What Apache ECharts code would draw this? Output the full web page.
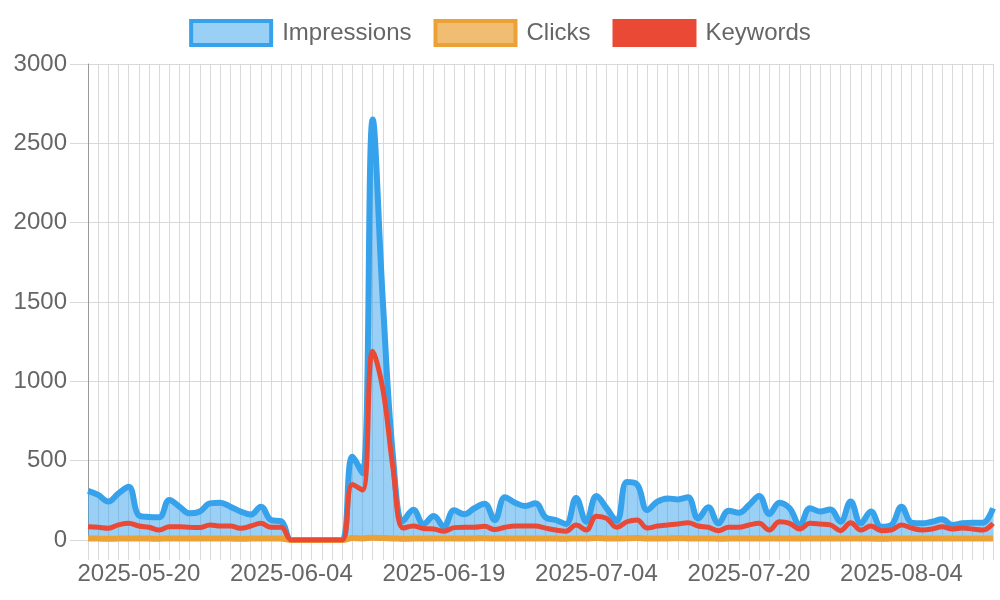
<!DOCTYPE html>
<html>
<head>
<meta charset="utf-8">
<script src="https://cdn.jsdelivr.net/npm/echarts@6/dist/echarts.min.js"></script>
<style>
html,body{margin:0;padding:0;background:#fff;}
#chart{width:1000px;height:600px;}
</style>
</head>
<body>
<div id="chart"></div>
<script>
const dates = [
"2025-05-15","2025-05-16","2025-05-17","2025-05-18","2025-05-19","2025-05-20","2025-05-21","2025-05-22","2025-05-23","2025-05-24",
"2025-05-25","2025-05-26","2025-05-27","2025-05-28","2025-05-29","2025-05-30","2025-05-31","2025-06-01","2025-06-02","2025-06-03",
"2025-06-04","2025-06-05","2025-06-06","2025-06-07","2025-06-08","2025-06-09","2025-06-10","2025-06-11","2025-06-12","2025-06-13",
"2025-06-14","2025-06-15","2025-06-16","2025-06-17","2025-06-18","2025-06-19","2025-06-20","2025-06-21","2025-06-22","2025-06-23",
"2025-06-24","2025-06-25","2025-06-26","2025-06-27","2025-06-28","2025-06-29","2025-06-30","2025-07-01","2025-07-02","2025-07-03",
"2025-07-04","2025-07-05","2025-07-06","2025-07-07","2025-07-08","2025-07-09","2025-07-10","2025-07-11","2025-07-13","2025-07-14",
"2025-07-15","2025-07-16","2025-07-17","2025-07-18","2025-07-19","2025-07-20","2025-07-21","2025-07-22","2025-07-23","2025-07-24",
"2025-07-25","2025-07-26","2025-07-27","2025-07-28","2025-07-29","2025-07-30","2025-07-31","2025-08-01","2025-08-02","2025-08-03",
"2025-08-04","2025-08-05","2025-08-06","2025-08-07","2025-08-08","2025-08-09","2025-08-10","2025-08-11","2025-08-12","2025-08-13"
];
const impressions = [
310,284,242,294,335,155,145,143,252,210,
168,180,231,235,210,180,160,210,126,118,
0,0,0,0,0,0,525,420,2650,1500,
520,120,190,100,151,85,187,162,200,228,
126,269,235,214,231,143,126,101,265,115,
277,200,120,365,350,189,242,262,256,269,
136,206,105,185,172,220,277,164,235,200,
95,200,180,193,115,242,105,180,84,95,
210,109,105,115,130,95,105,109,109,200
];
const clicks = [
10,9,8,9,10,10,9,8,10,9,
9,10,10,9,9,8,9,10,9,9,
0,0,0,0,0,0,12,10,14,12,
10,8,9,9,10,9,10,9,10,11,
9,10,10,9,10,9,9,8,10,9,
12,10,9,11,12,9,10,10,11,10,
9,10,8,9,9,10,10,9,10,10,
9,10,10,9,9,10,9,9,8,9,
10,9,9,10,10,9,9,9,9,10
];
const keywords = [
84,80,74,95,105,88,80,63,84,84,
80,78,95,88,88,74,88,105,80,80,
0,0,0,0,0,0,350,315,1190,950,
450,75,88,72,69,55,78,80,80,86,
66,80,88,88,88,75,63,55,95,63,
150,136,80,115,126,75,88,95,101,109,
88,80,59,80,80,95,105,63,115,105,
69,105,101,95,59,109,63,88,59,63,
95,75,63,69,84,69,75,69,63,105
];
const yTicks = {min: 0, max: 3000, interval: 500};

const BLUE = '#36A2EB', ORANGE = '#EBA136', RED = '#EA4A35';
const chart = echarts.init(document.getElementById('chart'), null, {renderer: 'canvas'});
const font = '"Liberation Sans", Arial, Helvetica, sans-serif';
chart.setOption({
  animation: false,
  textStyle: {fontFamily: font},
  legend: {
    top: 14,
    left: 'center',
    icon: 'rect',
    itemWidth: 80,
    itemHeight: 24,
    itemGap: 22,
    textStyle: {fontSize: 24, color: '#666', fontFamily: font, padding: [0,0,0,6]},
    data: [
      {name: 'Impressions', itemStyle: {color: 'rgba(54,162,235,0.5)', borderColor: BLUE, borderWidth: 4}},
      {name: 'Clicks', itemStyle: {color: 'rgba(235,161,54,0.7)', borderColor: ORANGE, borderWidth: 4}},
      {name: 'Keywords', itemStyle: {color: RED, borderColor: RED, borderWidth: 4}}
    ]
  },
  grid: {left: 88, right: 7, top: 64, bottom: 60, containLabel: false},
  xAxis: {
    type: 'category',
    data: dates,
    boundaryGap: false,
    axisLine: {show: true, lineStyle: {color: '#d9d9d9', width: 1}},
    axisTick: {show: true, interval: 0, length: 20, lineStyle: {color: '#d9d9d9'}},
    splitLine: {show: true, interval: 0, lineStyle: {color: '#d9d9d9', width: 1}},
    axisLabel: {
      interval: function (i) { return (i - 5) % 15 === 0; },
      fontSize: 24, color: '#666', margin: 22, fontFamily: font
    }
  },
  yAxis: {
    type: 'value',
    min: yTicks.min, max: yTicks.max, interval: yTicks.interval,
    axisLine: {show: true, lineStyle: {color: '#999', width: 1}},
    axisTick: {show: true, length: 18, lineStyle: {color: '#d9d9d9'}},
    splitLine: {show: true, lineStyle: {color: '#d9d9d9', width: 1}},
    axisLabel: {fontSize: 24, color: '#666', margin: 21, fontFamily: font,
      formatter: function (v) { return String(v); }}
  },
  series: [
    {
      name: 'Impressions', type: 'line', data: impressions, smooth: 0.4,
      symbol: 'none', lineStyle: {color: BLUE, width: 6},
      itemStyle: {color: BLUE},
      areaStyle: {color: 'rgba(54,162,235,0.5)', opacity: 1, origin: 'start'}, z: 2
    },
    {
      name: 'Clicks', type: 'line', data: clicks, smooth: 0.4,
      symbol: 'none', lineStyle: {color: ORANGE, width: 6},
      itemStyle: {color: ORANGE}, z: 3
    },
    {
      name: 'Keywords', type: 'line', data: keywords, smooth: 0.4,
      symbol: 'none', lineStyle: {color: RED, width: 5},
      itemStyle: {color: RED}, z: 4
    }
  ]
});
</script>
</body>
</html>
